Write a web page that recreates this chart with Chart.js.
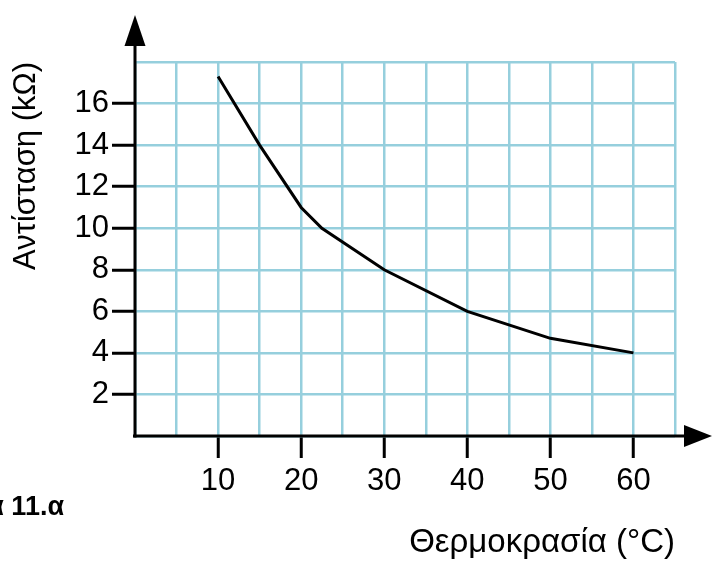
<!DOCTYPE html>
<html>
<head>
<meta charset="utf-8">
<script src="https://cdn.jsdelivr.net/npm/chart.js@4.4.0/dist/chart.umd.min.js"></script>
<style>
html, body { margin: 0; padding: 0; background: #fff; }
</style>
</head>
<body>
<canvas id="thermChart" width="712" height="563"></canvas>
<script>
// values
const temperatures = [10, 15, 20, 22.5, 30, 40, 50, 60];
const resistances = [17.3, 14, 11, 10, 8, 6, 4.7, 4];
const xLabels = [10, 20, 30, 40, 50, 60];
const yLabels = [2, 4, 6, 8, 10, 12, 14, 16];
const xTitle = 'Θερμοκρασία (°C)';
const yTitle = 'Αντίσταση (kΩ)';
const caption = 'Σχήμα 11.α';

const FONT = '"Liberation Sans", Arial, sans-serif';
const GRID = '#96cfdd';

// black axes with arrow heads + the cut-off caption on the left
const axesPlugin = {
    id: 'axesArrows',
    afterDraw(chart) {
        const { ctx, chartArea: a, scales: { x, y } } = chart;
        const x0 = x.getPixelForValue(0);
        const y0 = y.getPixelForValue(0);
        ctx.save();
        ctx.strokeStyle = '#000';
        ctx.fillStyle = '#000';
        ctx.lineWidth = 3;

        ctx.beginPath();
        ctx.moveTo(x0, y0 + 1.5);
        ctx.lineTo(x0, a.top - 16);
        ctx.stroke();
        ctx.beginPath();
        ctx.moveTo(x0, a.top - 47);
        ctx.lineTo(x0 - 10.5, a.top - 16);
        ctx.lineTo(x0 + 10.5, a.top - 16);
        ctx.closePath();
        ctx.fill();

        ctx.beginPath();
        ctx.moveTo(x0 - 2, y0);
        ctx.lineTo(a.right + 10, y0);
        ctx.stroke();
        ctx.beginPath();
        ctx.moveTo(a.right + 37, y0);
        ctx.lineTo(a.right + 9, y0 - 11);
        ctx.lineTo(a.right + 9, y0 + 11);
        ctx.closePath();
        ctx.fill();

        ctx.font = 'bold 27px ' + FONT;
        ctx.textAlign = 'right';
        ctx.textBaseline = 'alphabetic';
        ctx.fillText(caption, 64, 515);
        ctx.restore();
    }
};

const ctx = document.getElementById('thermChart').getContext('2d');
new Chart(ctx, {
    type: 'line',
    data: {
        datasets: [{
            data: temperatures.map((t, i) => ({ x: t, y: resistances[i] })),
            borderColor: '#000',
            borderWidth: 3,
            pointRadius: 0,
            fill: false,
            tension: 0
        }]
    },
    options: {
        responsive: false,
        animation: false,
        devicePixelRatio: 1,
        layout: { padding: { top: 62, right: 37, bottom: 0, left: 0 } },
        plugins: { legend: { display: false }, tooltip: { enabled: false } },
        scales: {
            x: {
                type: 'linear',
                min: 0,
                max: 65,
                afterFit: s => { s.height = 127; },
                border: { display: false },
                grid: {
                    color: GRID,
                    lineWidth: 2.5,
                    tickLength: 22,
                    tickWidth: 3,
                    tickColor: c => xLabels.includes(c.tick.value) ? '#000' : 'rgba(0,0,0,0)'
                },
                ticks: {
                    stepSize: 5,
                    autoSkip: false,
                    maxRotation: 0,
                    padding: 5,
                    color: '#000',
                    font: { family: FONT, size: 31 },
                    callback: v => xLabels.includes(v) ? v : ''
                },
                title: {
                    display: true,
                    text: xTitle,
                    align: 'end',
                    color: '#000',
                    font: { family: FONT, size: 33 },
                    padding: { top: 0, bottom: 0 }
                }
            },
            y: {
                min: 0,
                max: 18,
                afterFit: s => { s.width = 135; },
                border: { display: false },
                grid: {
                    color: GRID,
                    lineWidth: 2.5,
                    tickLength: 23,
                    tickWidth: 3,
                    tickColor: c => yLabels.includes(c.tick.value) ? '#000' : 'rgba(0,0,0,0)'
                },
                ticks: {
                    stepSize: 2,
                    autoSkip: false,
                    padding: 3,
                    color: '#000',
                    font: { family: FONT, size: 31 },
                    callback: v => yLabels.includes(v) ? v : ''
                },
                title: {
                    display: true,
                    text: yTitle,
                    align: 'end',
                    color: '#000',
                    font: { family: FONT, size: 31 },
                    padding: { top: 8, bottom: 0 }
                }
            }
        }
    },
    plugins: [axesPlugin]
});
</script>
</body>
</html>
